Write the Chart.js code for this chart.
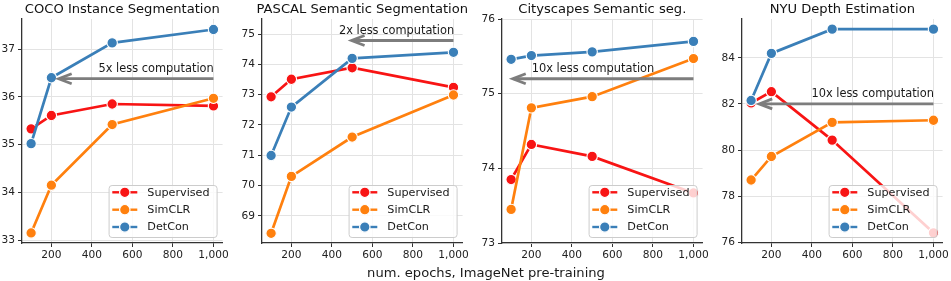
<!DOCTYPE html>
<html>
<head>
<meta charset="utf-8">
<script src="https://cdn.jsdelivr.net/npm/chart.js@4.4.1/dist/chart.umd.min.js"></script>
<style>
  html, body { margin: 0; padding: 0; background: #fff; }
  #wrap { position: relative; width: 951px; height: 281px; overflow: hidden; }
  canvas { position: absolute; top: 0; }
  #xlabel { position: absolute; top: 265px; left: 486px; transform: translateX(-50%);
            font-family: 'DejaVu Sans', sans-serif; font-size: 13.1px; color: #1a1a1a; white-space: nowrap; }
</style>
</head>
<body>
<div id="wrap">
  <canvas id="c0" width="231" height="281" style="left:0px"></canvas>
  <canvas id="c1" width="231" height="281" style="left:240px"></canvas>
  <canvas id="c2" width="231" height="281" style="left:480px"></canvas>
  <canvas id="c3" width="231" height="281" style="left:720px"></canvas>
  <div id="xlabel">num. epochs, ImageNet pre-training</div>
</div>
<script>
// ---- data ----
const epochs = [100, 200, 500, 1000];
const seriesNames = ['Supervised', 'SimCLR', 'DetCon'];
const panelTitles = ['COCO Instance Segmentation', 'PASCAL Semantic Segmentation', 'Cityscapes Semantic seg.', 'NYU Depth Estimation'];
const xTickLabels = [200, 400, 600, 800, 1000];

const cocoSupervised = [35.33, 35.61, 35.85, 35.81];
const cocoSimCLR     = [33.15, 34.15, 35.42, 35.97];
const cocoDetCon     = [35.02, 36.40, 37.13, 37.41];
const cocoYTicks     = [33, 34, 35, 36, 37];

const pascalSupervised = [72.93, 73.51, 73.89, 73.24];
const pascalSimCLR     = [68.42, 70.30, 71.60, 72.99];
const pascalDetCon     = [70.99, 72.59, 74.20, 74.40];
const pascalYTicks     = [69, 70, 71, 72, 73, 74, 75];

const cityscapesSupervised = [73.85, 74.32, 74.16, 73.67];
const cityscapesSimCLR     = [73.45, 74.81, 74.96, 75.47];
const cityscapesDetCon     = [75.46, 75.51, 75.56, 75.70];
const cityscapesYTicks     = [73, 74, 75, 76];

const nyuSupervised = [82.04, 82.53, 80.43, 76.41];
const nyuSimCLR     = [78.70, 79.72, 81.20, 81.29];
const nyuDetCon     = [82.15, 84.19, 85.24, 85.24];
const nyuYTicks     = [76, 78, 80, 82, 84];

// annotation arrows: level, arrow start/end epochs, text centre epoch
const arrowLabels = ['5x less computation', '2x less computation', '10x less computation', '10x less computation'];
const arrowLevels = [36.38, 74.79, 75.20, 82.00];
const arrowTips   = [236, 497, 108, 140];
const arrowTextX  = [717, 719, 504, 700];

// ---- style ----
const COLORS = ['#f81414', '#ff800e', '#3a7fb8'];
const FONT = "'DejaVu Sans', sans-serif";

const panels = [
  { title: panelTitles[0], series: [cocoSupervised, cocoSimCLR, cocoDetCon], yTicks: cocoYTicks, yMin: 32.94, yMax: 37.63 },
  { title: panelTitles[1], series: [pascalSupervised, pascalSimCLR, pascalDetCon], yTicks: pascalYTicks, yMin: 68.10, yMax: 75.50 },
  { title: panelTitles[2], series: [cityscapesSupervised, cityscapesSimCLR, cityscapesDetCon], yTicks: cityscapesYTicks, yMin: 73.0, yMax: 76.0 },
  { title: panelTitles[3], series: [nyuSupervised, nyuSimCLR, nyuDetCon], yTicks: nyuYTicks, yMin: 75.97, yMax: 85.68 }
];

const decoPlugin = {
  id: 'deco',
  afterDatasetsDraw(chart, args, opts) {
    const ctx = chart.ctx;
    const ca = chart.chartArea;
    const xs = chart.scales.x, ys = chart.scales.y;
    ctx.save();
    // title
    ctx.fillStyle = '#111';
    ctx.font = '13.1px ' + FONT;
    ctx.textAlign = 'center';
    ctx.textBaseline = 'middle';
    ctx.fillText(opts.title, (ca.left + ca.right) / 2, 10);

    // arrow
    const ay = ys.getPixelForValue(opts.arrowY);
    const x0 = xs.getPixelForValue(1000);
    const x1 = xs.getPixelForValue(opts.arrowTip);
    ctx.strokeStyle = '#7d7d7d';
    ctx.lineWidth = 2.8;
    ctx.lineCap = 'butt';
    ctx.beginPath();
    ctx.moveTo(x0, ay); ctx.lineTo(x1 + 1, ay);
    ctx.stroke();
    ctx.beginPath();
    ctx.moveTo(x1 + 13, ay - 5);
    ctx.lineTo(x1, ay);
    ctx.lineTo(x1 + 13, ay + 5);
    ctx.stroke();
    // arrow text
    ctx.fillStyle = '#1a1a1a';
    ctx.font = '11.4px ' + FONT;
    ctx.textAlign = 'center';
    ctx.textBaseline = 'middle';
    ctx.fillText(opts.arrowText, xs.getPixelForValue(opts.arrowTextX), ay - 9.5);

    // legend (lower right, semi-transparent)
    const w = 108, h = 52;
    const bx = ca.right - 6 - w, by = ca.bottom - 6 - h;
    ctx.beginPath();
    ctx.roundRect(bx + 0.5, by + 0.5, w, h, 3);
    ctx.fillStyle = 'rgba(255,255,255,0.8)';
    ctx.fill();
    ctx.strokeStyle = '#cccccc';
    ctx.lineWidth = 1;
    ctx.stroke();
    const rows = [7.3, 24.7, 42];
    chart.data.datasets.forEach((ds, i) => {
      const ry = by + rows[i];
      ctx.strokeStyle = ds.borderColor;
      ctx.lineWidth = 2.4;
      ctx.beginPath();
      ctx.moveTo(bx + 3.7, ry); ctx.lineTo(bx + 28.7, ry);
      ctx.stroke();
      ctx.beginPath();
      ctx.arc(bx + 16.2, ry, 5.2, 0, Math.PI * 2);
      ctx.fillStyle = ds.borderColor;
      ctx.fill();
      ctx.strokeStyle = '#fff';
      ctx.lineWidth = 1.2;
      ctx.stroke();
      ctx.fillStyle = '#1a1a1a';
      ctx.font = '11.2px ' + FONT;
      ctx.textAlign = 'left';
      ctx.textBaseline = 'middle';
      ctx.fillText(ds.label, bx + 38.7, ry + 0.5);
    });
    ctx.restore();
  }
};

panels.forEach((p, idx) => {
  const datasets = seriesNames.map((name, i) => ({
    label: name,
    data: epochs.map((e, k) => ({ x: e, y: p.series[i][k] })),
    borderColor: COLORS[i],
    backgroundColor: COLORS[i],
    pointBackgroundColor: COLORS[i],
    pointBorderColor: '#ffffff',
    pointBorderWidth: 1.1,
    pointRadius: 5.2,
    borderWidth: 2.7,
    tension: 0,
    clip: false,
    order: seriesNames.length - i
  }));
  new Chart(document.getElementById('c' + idx), {
    type: 'line',
    data: { datasets },
    options: {
      responsive: false,
      animation: false,
      events: [],
      layout: { padding: { top: 19, right: 8, bottom: 0, left: 0 } },
      plugins: {
        legend: { display: false },
        tooltip: { enabled: false },
        title: { display: false },
        deco: {
          title: p.title,
          arrowY: arrowLevels[idx],
          arrowTip: arrowTips[idx],
          arrowText: arrowLabels[idx],
          arrowTextX: arrowTextX[idx]
        }
      },
      scales: {
        x: {
          type: 'linear',
          min: 55, max: 1045,
          afterFit(s) { s.height = 38; },
          afterBuildTicks(s) { s.ticks = xTickLabels.map(v => ({ value: v })); },
          grid: { color: '#e3e3e3', lineWidth: 1, tickColor: '#333', tickLength: 4 },
          border: { color: '#333', width: 1.3 },
          ticks: {
            color: '#222', padding: 2,
            font: { family: FONT, size: 10.6 },
            maxRotation: 0,
            callback: v => v.toLocaleString('en-US')
          }
        },
        y: {
          type: 'linear',
          min: p.yMin, max: p.yMax,
          afterFit(s) { s.width = 22; },
          afterBuildTicks(s) { s.ticks = p.yTicks.map(v => ({ value: v })); },
          grid: { color: '#e3e3e3', lineWidth: 1, tickColor: '#333', tickLength: 4 },
          border: { color: '#333', width: 1.3 },
          ticks: {
            color: '#222', padding: 3,
            font: { family: FONT, size: 10.6 },
            callback: v => String(v)
          }
        }
      }
    },
    plugins: [decoPlugin]
  });
});
</script>
</body>
</html>
